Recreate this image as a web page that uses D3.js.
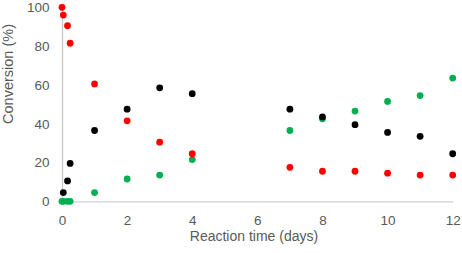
<!DOCTYPE html>
<html>
<head>
<meta charset="utf-8">
<script src="https://cdn.jsdelivr.net/npm/d3@7"></script>
<style>
  body { margin: 0; background: #fff; }
  svg { display: block; font-family: "Liberation Sans", Arial, sans-serif; }
</style>
</head>
<body>
<svg id="chart" width="462" height="253"></svg>
<script>
// =========================
// DADES
// =========================
const timeEarly = [0, 0.04, 0.17, 0.25];
const timeLate = [1, 2, 3, 4, 7, 8, 9, 10, 11, 12];

const redTimes = [0, 0.04, 0.17, 0.25, ...timeLate];
const redValues = [100, 96, 90.5, 81.5, 60.5, 41.5, 30.5, 24.5, 17.5, 15.5, 15.5, 14.5, 13.5, 13.5];

const blackTimes = [0.04, 0.17, 0.25, ...timeLate];
const blackValues = [4.5, 10.5, 19.5, 36.5, 47.5, 58.5, 55.5, 47.5, 43.5, 39.5, 35.5, 33.5, 24.5];

const greenTimes = [...timeEarly, ...timeLate];
const greenValues = [0, 0, 0, 0, 4.5, 11.5, 13.5, 21.5, 36.5, 42.5, 46.5, 51.5, 54.5, 63.5];

const xTicks = [0, 2, 4, 6, 8, 10, 12];
const yTicks = [0, 20, 40, 60, 80, 100];

const series = [
  { name: "green", times: greenTimes, values: greenValues, color: "#00b050" },
  { name: "red", times: redTimes, values: redValues, color: "#ff0000" },
  { name: "black", times: blackTimes, values: blackValues, color: "#000000" }
];

// =========================
// ESCALES
// =========================
const svg = d3.select("#chart");

const x = d3.scaleLinear().domain([0, 12]).range([62, 452.7]);
const y = d3.scaleLinear().domain([0, 100]).range([201.3, 7.3]);

// eix X
const xAxis = svg.append("g")
  .attr("transform", `translate(0, ${y(0)})`)
  .call(d3.axisBottom(x).tickValues(xTicks).tickSize(0).tickPadding(14).tickFormat(d3.format("d")));
xAxis.select(".domain").attr("stroke", "#d0d0d0").attr("stroke-width", 1.3);
xAxis.selectAll("text")
  .style("font-size", "13.5px")
  .style("font-family", "'Liberation Sans', Arial, sans-serif")
  .attr("fill", "#595959");

// eix Y
const yAxis = svg.append("g")
  .attr("transform", `translate(${x(0)}, 0)`)
  .call(d3.axisLeft(y).tickValues(yTicks).tickSize(0).tickPadding(12.5).tickFormat(d3.format("d")));
yAxis.select(".domain").attr("stroke", "#c8c8c8").attr("stroke-width", 1.3);
yAxis.selectAll("text")
  .style("font-size", "13.5px")
  .style("font-family", "'Liberation Sans', Arial, sans-serif")
  .attr("fill", "#595959");

// títols
svg.append("text")
  .attr("x", 254)
  .attr("y", 241)
  .attr("text-anchor", "middle")
  .attr("fill", "#595959")
  .style("font-size", "14px")
  .text("Reaction time (days)");

svg.append("text")
  .attr("transform", "translate(13, 74) rotate(-90)")
  .attr("text-anchor", "middle")
  .attr("fill", "#595959")
  .style("font-size", "14.5px")
  .text("Conversion (%)");

// =========================
// PUNTS
// =========================
series.forEach(s => {
  svg.append("g")
    .selectAll("circle")
    .data(s.times.map((t, i) => ({ t, v: s.values[i] })))
    .enter()
    .append("circle")
    .attr("cx", d => x(d.t))
    .attr("cy", d => y(d.v))
    .attr("r", 3.4)
    .attr("fill", s.color);
});
</script>
</body>
</html>
